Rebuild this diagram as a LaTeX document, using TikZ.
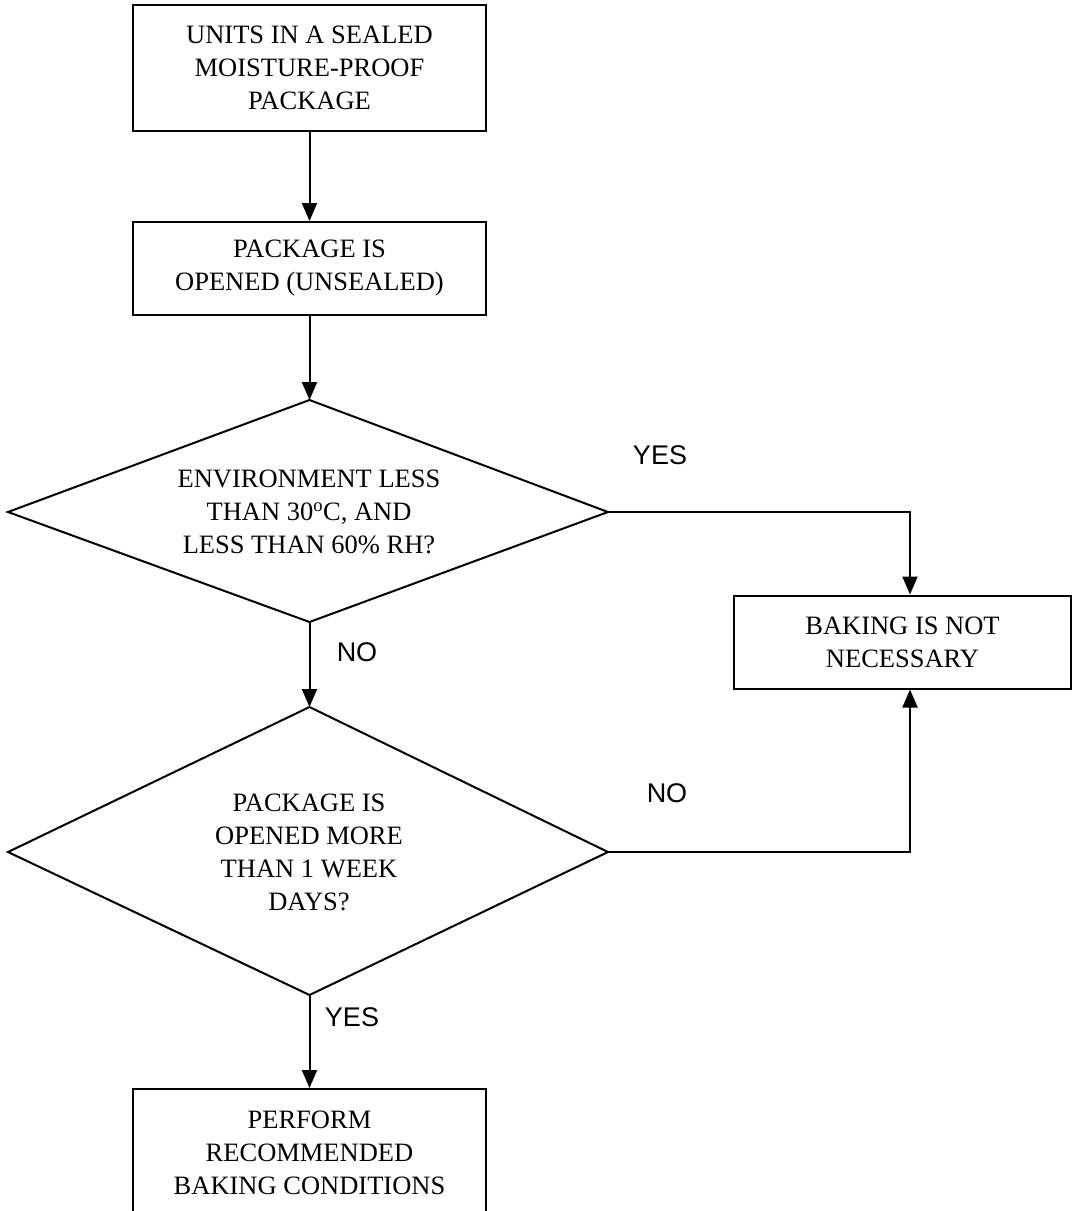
\documentclass[tikz,border=0pt]{standalone}
\usepackage{fontspec}
\setmainfont{Liberation Serif}
\newfontfamily\labfont{Liberation Sans}
\usetikzlibrary{arrows.meta}
\begin{document}
\begin{tikzpicture}[x=1pt,y=-1pt,
  txt/.style={font=\fontsize{26.5}{33}\selectfont,align=center,inner sep=0pt},
  boxst/.style={draw,line width=2pt,inner sep=0pt,align=center,font=\fontsize{26.5}{33}\selectfont},
  lin/.style={line width=2pt},
  arr/.style={line width=2pt,-{Triangle[width=15pt,length=18pt]}},
  lab/.style={font=\labfont\fontsize{27}{30}\selectfont,inner sep=0pt}]
\useasboundingbox (0,0) rectangle (1073,1211);
\fill[white] (0,0) rectangle (1073,1211);
% boxes
\node[boxst,minimum width=353,minimum height=126] (b1) at (309.5,68) {UNITS IN A SEALED\\MOISTURE-PROOF\\PACKAGE};
\node[boxst,minimum width=353,minimum height=93] (b2) at (309.5,268.5) {PACKAGE IS\\OPENED (UNSEALED)};
\node[boxst,minimum width=337,minimum height=93] (rb) at (902.5,642) {BAKING IS NOT\\NECESSARY};
\node[boxst,minimum width=353,minimum height=140,anchor=north] (b3) at (309.5,1088) {};
\node[txt,anchor=north] (b3t) at (309.5,1111) {PERFORM\\RECOMMENDED\\BAKING CONDITIONS};
% diamond 1
\coordinate (d1n) at (309.5,400);
\coordinate (d1w) at (8,512);
\coordinate (d1e) at (608,512);
\coordinate (d1s) at (309.5,622);
\draw[lin,line join=miter] (d1n) -- (d1e) -- (d1s) -- (d1w) -- cycle;
\node[txt] (d1) at (309,512) {ENVIRONMENT LESS\\THAN 30\textsuperscript{o}C, AND\\LESS THAN 60\% RH?};
% diamond 2
\coordinate (d2n) at (309.5,707);
\coordinate (d2w) at (8,852);
\coordinate (d2e) at (608,852);
\coordinate (d2s) at (309.5,995);
\draw[lin,line join=miter] (d2n) -- (d2e) -- (d2s) -- (d2w) -- cycle;
\node[txt] (d2) at (309,852) {PACKAGE IS\\OPENED MORE\\THAN 1 WEEK\\DAYS?};
% connectors
\draw[arr] (b1) -- (b2);
\draw[arr] (b2) -- (d1n);
\draw[arr] (d1s) -- (d2n);
\draw[arr] (d2s) -- (b3.north);
\draw[arr] (d1e) -| ([xshift=7.5]rb.north);
\draw[arr] (d2e) -| ([xshift=7.5]rb.south);
\node[lab] (l1) at (660,455) {YES};
\node[lab] (l2) at (357,652) {NO};
\node[lab] (l3) at (667,793) {NO};
\node[lab] (l4) at (352,1017) {YES};
\end{tikzpicture}
\end{document}
